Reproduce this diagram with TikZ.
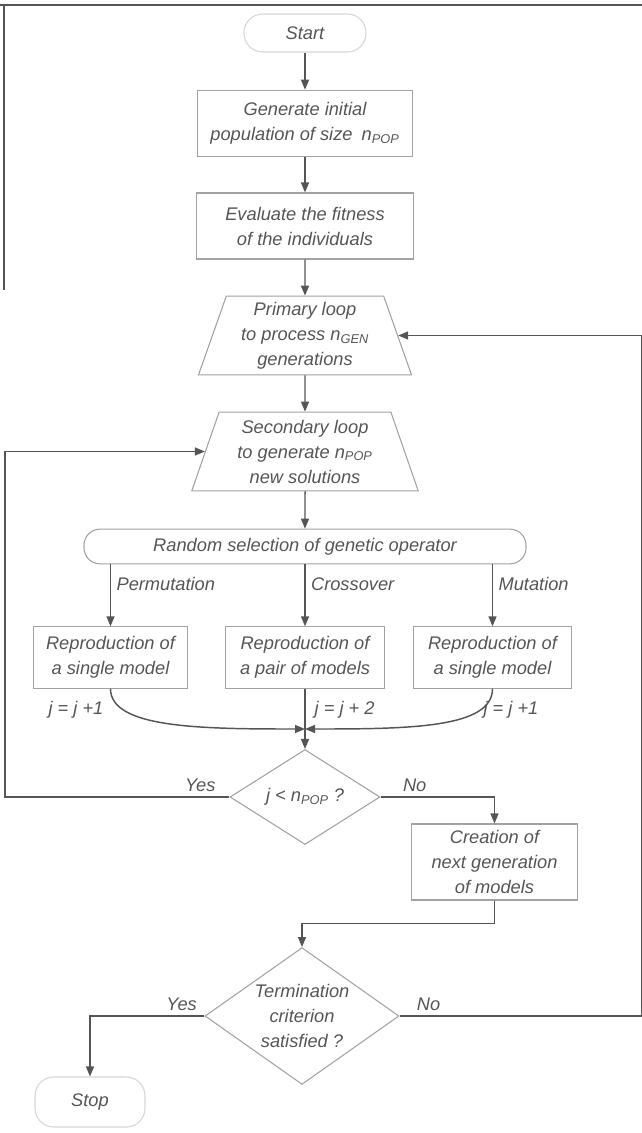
\documentclass[tikz,border=0pt]{standalone}
\usepackage{fontspec}
\setmainfont{Liberation Sans}
\usetikzlibrary{shapes.geometric,arrows.meta}
\definecolor{ink}{HTML}{555555}
\definecolor{rim}{HTML}{A2A2A2}

\begin{document}
\begin{tikzpicture}[x=0.75pt, y=-0.75pt,
	every node/.style={font=\fontsize{13.7}{18.75}\selectfont\itshape, text=ink},
	line/.style={draw=ink, line width=1.1pt},
	arr/.style={line, -{Triangle[length=7.5pt,width=6pt]}},
	box/.style={draw=rim, line width=0.8pt, align=center, inner sep=2pt},
	termbox/.style={draw=rim!45, line width=0.8pt, rounded corners=14pt},
	loopbox/.style={box, trapezium, trapezium left angle=72, trapezium right angle=72, trapezium stretches=true, minimum height=59pt},
	decision/.style={box, diamond, inner sep=0pt}]
	\useasboundingbox (0,0) rectangle (642,1133);
	\draw[line] (0,5) -- (642,5);
	\draw[line] (4,5) -- (4,290);
	\coordinate (lrail) at (5,0);
	\coordinate (rrail) at (642,0);

	\node[termbox, minimum width=91.5pt, minimum height=28.5pt] (start) at (305,33) {Start};
	\node[box, minimum width=161pt, minimum height=50pt] (gen) at (305,123.5) {Generate initial\\population of size\enspace n\textsubscript{POP}};
	\node[box, minimum width=163pt, minimum height=49.5pt] (eval) at (305,226) {Evaluate the fitness\\of the individuals};
	\node[loopbox, minimum width=160pt] (prim) at (305,335.5) {Primary loop\\to process n\textsubscript{GEN}\\generations};
	\node[loopbox, minimum width=170pt] (sec) at (305,451.5) {Secondary loop\\to generate n\textsubscript{POP}\\new solutions};
	\node[box, rounded corners=12pt, minimum width=331.5pt, minimum height=26pt] (sel) at (305,546.5) {Random selection of genetic operator};
	\foreach \nm/\x/\w/\op/\txt in {perm/110.5/115/Permutation/{a single model}, cross/305/119/Crossover/{a pair of models}, mut/492.5/119/Mutation/{a single model}} {
		\node[box, minimum width=\w pt, minimum height=46pt] (\nm) at (\x,657.5) {Reproduction of\\\txt};
		\draw[arr] (sel.south -| \nm.north) -- node[pos=0.32, right, inner sep=4pt] {\op} (\nm.north);
	}
	\coordinate (join) at (305,729);
	\node (jperm) at (76,710) {j = j +1};
	\node[anchor=west] (jcross) at (310,710) {j = j + 2};
	\node (jmut) at (511,710) {j = j +1};
	\node[decision, minimum width=112.5pt, minimum height=51pt] (jtest) at (305,797) {j < n\textsubscript{POP} ?};
	\node[box, minimum width=125pt, minimum height=57pt] (create) at (494.5,862) {Creation of\\next generation\\of models};
	\node[decision, minimum width=145.5pt, minimum height=85pt, inner sep=-4pt] (stopq) at (302,1016) {Termination\\criterion\\satisfied ?};
	\node[termbox, minimum width=82.5pt, minimum height=37.5pt] (stop) at (90,1102) {Stop};

	\draw[arr] (start) -- (gen);
	\draw[arr] (gen) -- (eval);
	\draw[arr] (eval) -- (prim);
	\draw[arr] (prim) -- (sec);
	\draw[arr] (sec) -- (sel);
	\draw[arr] (perm.south) .. controls (110.5,728) and (200,729) .. (join);
	\draw[arr] (mut.south) .. controls (492.5,728) and (410,729) .. (join);
	\draw[arr] (cross) -- (jtest);
	\draw[arr] (jtest.west) -- node[above, pos=0.13] {Yes} (jtest.west -| lrail) |- (sec.west);
	\draw[arr] (jtest.east) -- node[above, pos=0.3] {No} (jtest.east -| create.north) -- (create.north);
	\draw[arr] (create.south) -- ++(0,23) -| (stopq.north);
	\draw[arr] (stopq.west) -- node[above, pos=0.2] {Yes} (stopq.west -| stop.north) -- (stop.north);
	\draw[arr] (stopq.east) -- node[above, pos=0.12] {No} (stopq.east -| rrail) |- (prim.east);
\end{tikzpicture}
\end{document}
